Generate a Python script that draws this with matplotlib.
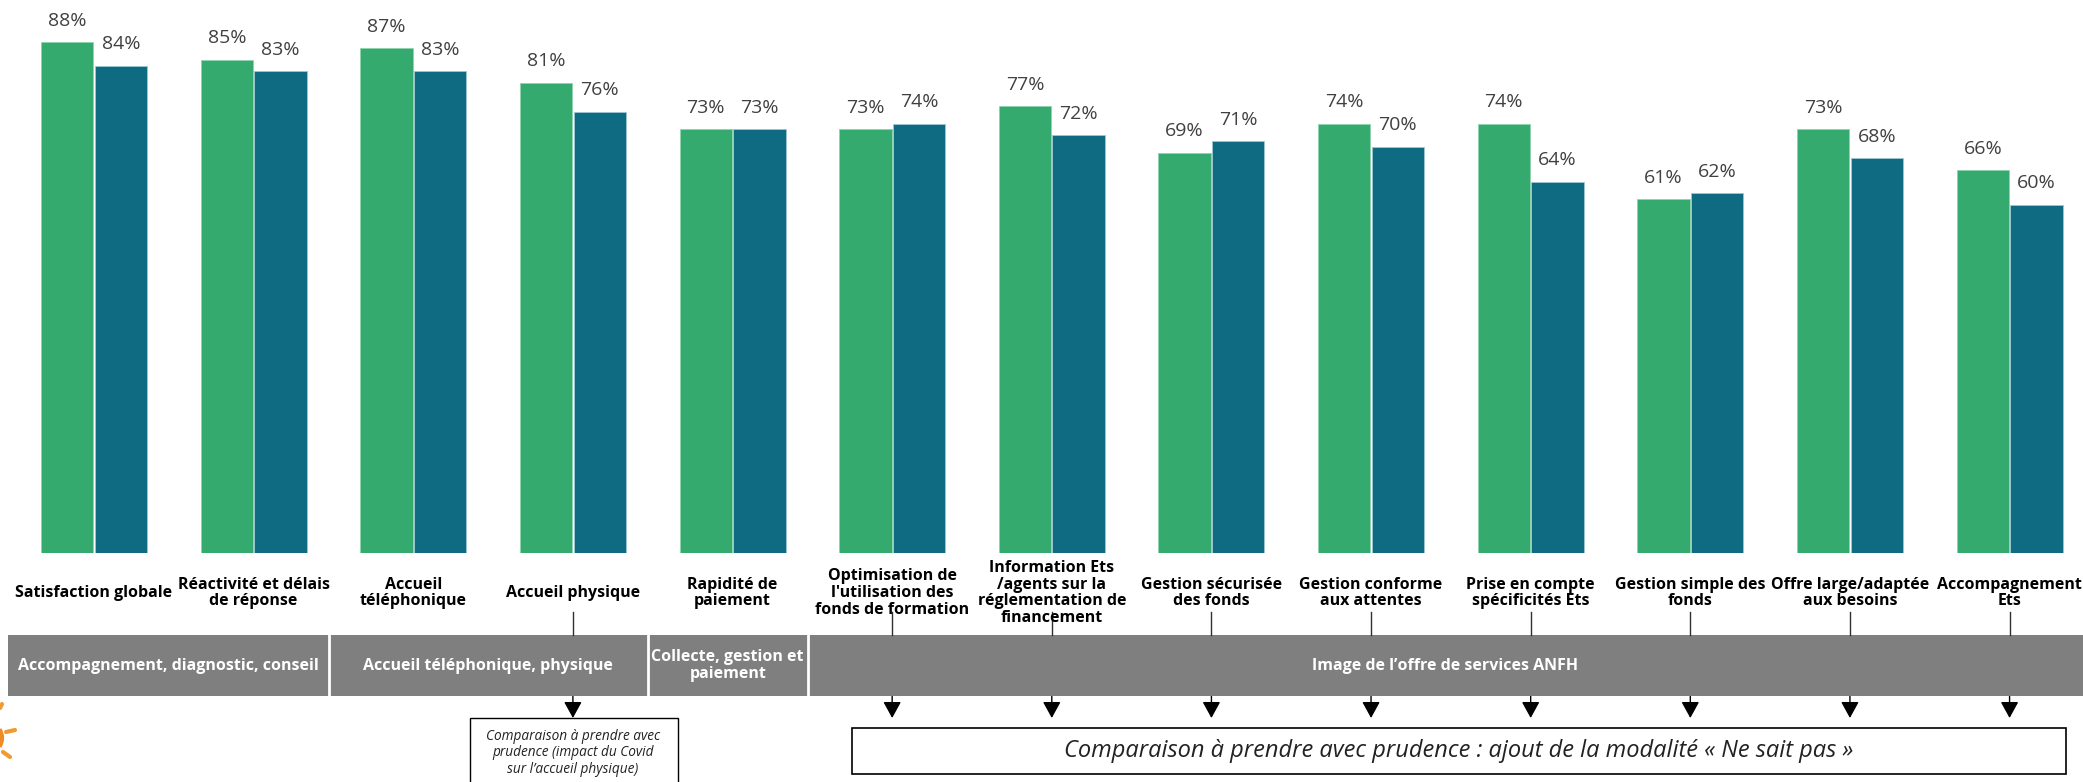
import numpy as np
import matplotlib
matplotlib.use('Agg')
import matplotlib.pyplot as plt
from matplotlib.patches import Rectangle, Arc
from matplotlib.lines import Line2D
import matplotlib.transforms as mtransforms

# Donnees
categories = ["Satisfaction globale", "Réactivité et délais\nde réponse",
              "Accueil\ntéléphonique", "Accueil physique",
              "Rapidité de\npaiement",
              "Optimisation de\nl'utilisation des\nfonds de formation",
              "Information Ets\n/agents sur la\nréglementation de\nfinancement",
              "Gestion sécurisée\ndes fonds", "Gestion conforme\naux attentes",
              "Prise en compte\nspécificités Ets", "Gestion simple des\nfonds",
              "Offre large/adaptée\naux besoins", "Accompagnement\nEts"]
serie_verte = [88, 85, 87, 81, 73, 73, 77, 69, 74, 74, 61, 73, 66]
serie_bleue = [84, 83, 83, 76, 73, 74, 72, 71, 70, 64, 62, 68, 60]

# Bandeau de themes: (texte, premier groupe, dernier groupe)
themes = ["Accompagnement, diagnostic, conseil", "Accueil téléphonique, physique",
          "Collecte, gestion et\npaiement", "Image de l\u2019offre de services ANFH"]
themes_debut = [0, 2, 4, 5]
themes_fin = [1, 3, 4, 12]

# Groupes avec fleche vers les encadres
fleches = [3, 5, 6, 7, 8, 9, 10, 11, 12]
note_covid = "Comparaison à prendre avec\nprudence (impact du Covid\nsur l\u2019accueil physique)"
note_nsp = "Comparaison à prendre avec prudence : ajout de la modalité « Ne sait pas »"

VERT = '#35AA6E'
BLEU = '#0F6B82'
GRIS = '#7F7F7F'

W, H = 2083, 782
fig = plt.figure(figsize=(W/100, H/100), dpi=100)

def fy(py):
    # pixel depuis le haut -> fraction de figure
    return 1 - py/H

def fx(px):
    return px/W

base = 553
ax = fig.add_axes([0, fy(base), 1, base/H])
ax.set_xlim(-0.589, 12.46)
ax.set_ylim(0, 95.3)
ax.axis('off')

x = np.arange(len(categories))
dx = 0.168
larg = 0.328
ax.bar(x-dx, serie_verte, larg, color=VERT, edgecolor='#8FD3AE', linewidth=0.6)
ax.bar(x+dx, serie_bleue, larg, color=BLEU, edgecolor='#9CC7D2', linewidth=0.6)

for i in range(len(x)):
    ax.annotate("{}%".format(serie_verte[i]), (x[i]-dx, serie_verte[i]),
                xytext=(0, 9), textcoords='offset points', ha='center',
                va='bottom', fontsize=14, color='#404040', family='Open Sans')
    ax.annotate("{}%".format(serie_bleue[i]), (x[i]+dx, serie_bleue[i]),
                xytext=(0, 9), textcoords='offset points', ha='center',
                va='bottom', fontsize=14, color='#404040', family='Open Sans')

# x en donnees, y en fraction de figure
trans = mtransforms.blended_transform_factory(ax.transData, fig.transFigure)

police = ['Open Sans', 'DejaVu Sans']
for i, c in enumerate(categories):
    fig.text(x[i], fy(593), c, transform=trans, ha='center', va='center',
             fontsize=11.5, fontweight='bold', family=police, linespacing=1.05,
             color='black')

# bandeau gris
b_haut, b_bas = 635, 696
fig.patches.append(Rectangle((fx(8), fy(b_bas)), 1-fx(8), (b_bas-b_haut)/H,
                             transform=fig.transFigure, facecolor=GRIS,
                             edgecolor='none', zorder=1))
bornes = [-0.54] + [f+0.47 for f in themes_fin[:-1]] + [12.46]
for j, t in enumerate(themes):
    g, d = bornes[j], bornes[j+1]
    if j > 0:
        fig.add_artist(Line2D([g, g], [fy(b_bas), fy(b_haut)], transform=trans,
                              color='white', lw=2, zorder=2))
    fig.text((g+d)/2, fy((b_haut+b_bas)/2), t, transform=trans, ha='center',
             va='center', fontsize=11.5, fontweight='bold', family=police,
             color='white', linespacing=1.05, zorder=3)

# traits et fleches
for k in fleches:
    fig.add_artist(Line2D([x[k], x[k]], [fy(612), fy(b_haut)], transform=trans,
                          color='#303030', lw=1))
    fig.add_artist(matplotlib.patches.FancyArrowPatch(
        (x[k], fy(b_bas)), (x[k], fy(718)), transform=trans,
        arrowstyle='-|>,head_length=0.4,head_width=0.22', mutation_scale=25,
        color='black', lw=1, shrinkA=0, shrinkB=0))

# encadre Covid
fig.patches.append(Rectangle((fx(470), fy(790)), fx(678)-fx(470), (790-718)/H,
                             transform=fig.transFigure, facecolor='white',
                             edgecolor='black', lw=1))
fig.text(x[3], fy(753), note_covid, transform=trans, ha='center', va='center',
         fontsize=9.8, style='italic', family='Open Sans', linespacing=1.15,
         color='#222222')

# grand encadre
fig.patches.append(Rectangle((fx(852), fy(774)), fx(2066)-fx(852), (774-728)/H,
                             transform=fig.transFigure, facecolor='white',
                             edgecolor='black', lw=1.2))
fig.text(fx(1459), fy(751), note_nsp, ha='center', va='center', fontsize=17,
         style='italic', family='Open Sans', color='#222222')

# bout du logo (soleil) coupe a gauche
orange = '#F39A2E'
fig.add_artist(Arc((fx(-14), fy(738)), 32/W, 32/H, theta1=-60, theta2=60,
                   transform=fig.transFigure, color='#F08A24', lw=3))
for (x0, y0, x1, y1) in [(6, 732, 15, 730), (3, 752, 10, 757), (0, 708, 2, 704)]:
    fig.add_artist(Line2D([fx(x0), fx(x1)], [fy(y0), fy(y1)],
                          transform=fig.transFigure, color=orange, lw=3,
                          solid_capstyle='round'))

plt.savefig("out.png", dpi=100)
